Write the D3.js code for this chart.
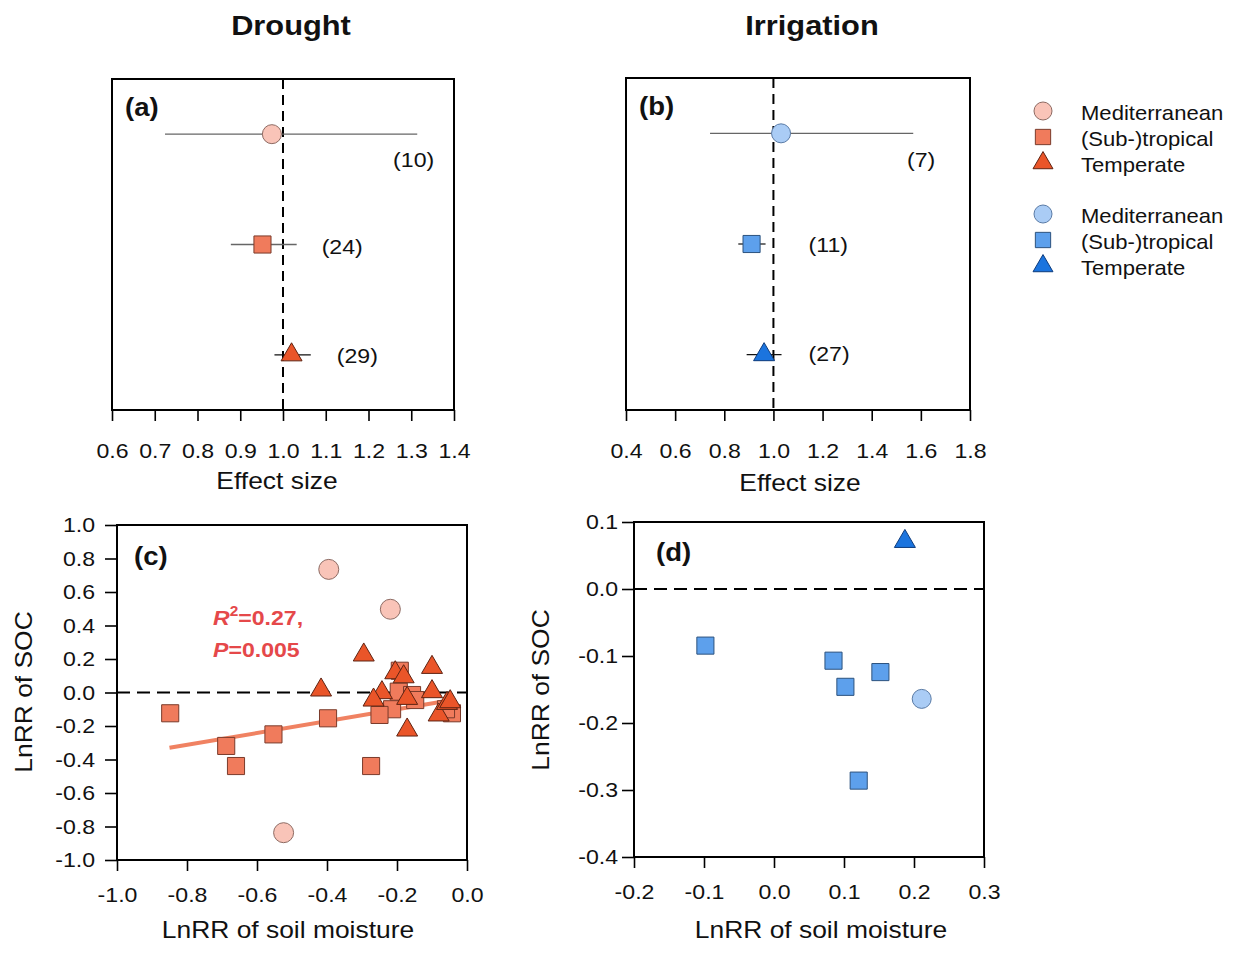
<!DOCTYPE html>
<html>
<head>
<meta charset="utf-8">
<script src="https://cdn.jsdelivr.net/npm/d3@7"></script>
<style>
  html, body { margin: 0; padding: 0; background: #fff; }
  svg { display: block; font-family: "Liberation Sans", Arial, Helvetica, sans-serif; }
</style>
</head>
<body>
<svg id="fig" width="1239" height="956"></svg>
<script>
// ---- Meta-analysis effect sizes (mean and 95% CI) by climate zone ----
const climates = ["Mediterranean", "(Sub-)tropical", "Temperate"];
const shapes = ["circle", "square", "triangle"];

const droughtMean = [0.974, 0.952, 1.020];
const droughtLow  = [0.724, 0.878, 0.980];
const droughtHigh = [1.314, 1.032, 1.065];
const droughtN    = [10, 24, 29];

const irrigMean = [1.031, 0.911, 0.962];
const irrigLow  = [0.742, 0.857, 0.891];
const irrigHigh = [1.569, 0.968, 1.033];
const irrigN    = [7, 11, 27];

const droughtTicks = [0.6, 0.7, 0.8, 0.9, 1.0, 1.1, 1.2, 1.3, 1.4];
const irrigTicks   = [0.4, 0.6, 0.8, 1.0, 1.2, 1.4, 1.6, 1.8];

// ---- LnRR of SOC vs LnRR of soil moisture, drought studies ----
const dMedX = [-0.395, -0.219, -0.524];
const dMedY = [0.735, 0.497, -0.837];
const dSubX = [-0.848, -0.688, -0.660, -0.553, -0.397, -0.274, -0.192, -0.195, -0.157, -0.148, -0.214, -0.250, -0.043, -0.060];
const dSubY = [-0.124, -0.319, -0.439, -0.250, -0.154, -0.439, 0.130, 0.005, -0.015, -0.045, -0.100, -0.134, -0.124, -0.100];
const dTemX = [-0.295, -0.417, -0.100, -0.100, -0.205, -0.181, -0.243, -0.267, -0.171, -0.171, -0.081, -0.057, -0.048];
const dTemY = [0.224, 0.015, 0.150, 0.005, 0.118, 0.094, -0.001, -0.045, -0.035, -0.224, -0.134, -0.065, -0.055];

// fitted linear regression (drought)
const regIntercept = -0.030;
const regSlope = 0.353;
const regXRange = [-0.85, -0.043];
const regR2 = "0.27";
const regP = "0.005";

const cXTicks = [-1.0, -0.8, -0.6, -0.4, -0.2, 0.0];
const cYTicks = [-1.0, -0.8, -0.6, -0.4, -0.2, 0.0, 0.2, 0.4, 0.6, 0.8, 1.0];

// ---- LnRR of SOC vs LnRR of soil moisture, irrigation studies ----
const iMedX = [0.211];
const iMedY = [-0.164];
const iSubX = [-0.098, 0.085, 0.102, 0.152, 0.121];
const iSubY = [-0.0845, -0.107, -0.146, -0.124, -0.286];
const iTemX = [0.187];
const iTemY = [0.071];

const dXTicks = [-0.2, -0.1, 0.0, 0.1, 0.2, 0.3];
const dYTicks = [-0.4, -0.3, -0.2, -0.1, 0.0, 0.1];

// ---- styling ----
const droughtFill   = ["#F9C4B8", "#F07B5C", "#EA5529"];
const droughtStroke = ["#8d6a62", "#7a3b2b", "#5e2312"];
const irrigFill     = ["#AACCF5", "#5DA0EC", "#1B74DE"];
const irrigStroke   = ["#5a7ba6", "#2c527e", "#0d3b7c"];
const regColor = "#F08262";
const statColor = "#E5484A";
const textWiden = 1.1;   // horizontal widening of the lettering

const svg = d3.select("#fig");
const fmt = d => d.toFixed(1);

function shapePath(shape, size) {
  if (shape === "circle") {
    const r = size / 2;
    return `M${r},0A${r},${r} 0 1,1 ${-r},0A${r},${r} 0 1,1 ${r},0Z`;
  }
  if (shape === "square") {
    const s = size * 0.9;
    return `M${-s / 2},${-s / 2}h${s}v${s}h${-s}Z`;
  }
  const w = size * 1.05, h = w * 0.86;
  return `M0,${-2 * h / 3}L${w / 2},${h / 3}L${-w / 2},${h / 3}Z`;
}

function drawMarker(g, shape, x, y, size, fill, stroke) {
  g.append("path")
    .attr("d", shapePath(shape, size))
    .attr("transform", `translate(${x},${y})`)
    .attr("fill", fill)
    .attr("stroke", stroke)
    .attr("stroke-width", 1);
}

function styleAxis(ax, fontSize) {
  ax.select(".domain").remove();
  ax.selectAll(".tick line").attr("stroke", "#000").attr("stroke-width", 1.6);
  ax.selectAll(".tick text").attr("fill", "#111").style("font-size", fontSize + "px");
}

function frame(g, b) {
  g.append("rect")
    .attr("x", b.left).attr("y", b.top)
    .attr("width", b.right - b.left).attr("height", b.bottom - b.top)
    .attr("fill", "none").attr("stroke", "#000").attr("stroke-width", 2);
}

// ---- forest panels ----
function forestPanel(o) {
  const g = svg.append("g");
  const b = o.box;
  const x = d3.scaleLinear().domain(o.domain).range([b.left, b.right]);
  const y = d3.scalePoint().domain(d3.range(climates.length)).range([b.top, b.bottom]).padding(0.5);

  // reference line at effect size 1
  g.append("line")
    .attr("x1", x(1)).attr("x2", x(1))
    .attr("y1", b.top).attr("y2", b.bottom)
    .attr("stroke", "#000").attr("stroke-width", 2)
    .attr("stroke-dasharray", "10,6");

  climates.forEach((c, i) => {
    g.append("line")
      .attr("x1", x(o.low[i])).attr("x2", x(o.high[i]))
      .attr("y1", y(i)).attr("y2", y(i))
      .attr("stroke", o.barColor[i]).attr("stroke-width", 1.3);
    drawMarker(g, shapes[i], x(o.mean[i]), y(i), o.markerSize[i], o.fill[i], o.stroke[i]);
    const lab = o.countLabel[i];
    g.append("text")
      .attr("x", x(o.high[i]) + lab.dx)
      .attr("y", y(i) + lab.dy)
      .attr("text-anchor", lab.anchor)
      .attr("fill", "#111")
      .style("font-size", "21px")
      .text(`(${o.n[i]})`);
  });

  frame(g, b);

  const ax = g.append("g")
    .attr("transform", `translate(0,${b.bottom})`)
    .call(d3.axisBottom(x).tickValues(o.ticks).tickFormat(fmt).tickSize(11).tickPadding(22).tickSizeOuter(0));
  styleAxis(ax, 21);

  g.append("text")
    .attr("x", (b.left + b.right) / 2 + o.xTitleDx)
    .attr("y", o.xTitleY)
    .attr("text-anchor", "middle")
    .attr("fill", "#111")
    .style("font-size", "24px")
    .text("Effect size");

  g.append("text")
    .attr("x", b.left + 13).attr("y", b.top + 37)
    .attr("fill", "#111")
    .style("font-size", "25px").style("font-weight", "bold")
    .text(o.tag);

  g.append("text")
    .attr("x", o.titleX).attr("y", 35)
    .attr("text-anchor", "middle")
    .attr("fill", "#111")
    .style("font-size", "28px").style("font-weight", "bold")
    .text(o.title);
}

forestPanel({
  box: { left: 112, right: 454, top: 79, bottom: 410 },
  domain: [0.6, 1.4], ticks: droughtTicks,
  mean: droughtMean, low: droughtLow, high: droughtHigh, n: droughtN,
  fill: droughtFill, stroke: droughtStroke,
  barColor: ["#666", "#666", "#111"],
  markerSize: [19, 19, 20],
  countLabel: [
    { anchor: "end", dx: 17, dy: 33 },
    { anchor: "start", dx: 25, dy: 9 },
    { anchor: "start", dx: 26, dy: 8 }
  ],
  xTitleDx: -6, xTitleY: 489, tag: "(a)", title: "Drought", titleX: 291
});

forestPanel({
  box: { left: 626, right: 970, top: 78, bottom: 410 },
  domain: [0.4, 1.8], ticks: irrigTicks,
  mean: irrigMean, low: irrigLow, high: irrigHigh, n: irrigN,
  fill: irrigFill, stroke: irrigStroke,
  barColor: ["#666", "#222", "#111"],
  markerSize: [19, 19, 20],
  countLabel: [
    { anchor: "end", dx: 22, dy: 34 },
    { anchor: "start", dx: 43, dy: 8 },
    { anchor: "start", dx: 27, dy: 6 }
  ],
  xTitleDx: 2, xTitleY: 491, tag: "(b)", title: "Irrigation", titleX: 812
});

// ---- scatter panels ----
function scatterPanel(o) {
  const g = svg.append("g");
  const b = o.box;
  const x = d3.scaleLinear().domain(o.xDomain).range([b.left, b.right]);
  const y = d3.scaleLinear().domain(o.yDomain).range([b.bottom, b.top]);

  g.append("line")
    .attr("x1", b.left).attr("x2", b.right)
    .attr("y1", y(0)).attr("y2", y(0))
    .attr("stroke", "#000").attr("stroke-width", 2)
    .attr("stroke-dasharray", "13,7");

  if (o.reg) {
    g.append("line")
      .attr("x1", x(o.reg.range[0])).attr("y1", y(o.reg.a + o.reg.b * o.reg.range[0]))
      .attr("x2", x(o.reg.range[1])).attr("y2", y(o.reg.a + o.reg.b * o.reg.range[1]))
      .attr("stroke", regColor).attr("stroke-width", 4);
  }

  // draw order: squares, triangles, circles
  [1, 2, 0].forEach(i => {
    const xs = o.xs[i], ys = o.ys[i];
    xs.forEach((v, k) => drawMarker(g, shapes[i], x(v), y(ys[k]), o.markerSize[i], o.fill[i], o.stroke[i]));
  });

  frame(g, b);

  const axB = g.append("g")
    .attr("transform", `translate(0,${b.bottom})`)
    .call(d3.axisBottom(x).tickValues(o.xTicks).tickFormat(fmt).tickSize(11).tickPadding(16).tickSizeOuter(0));
  styleAxis(axB, 21);

  const axL = g.append("g")
    .attr("transform", `translate(${b.left},0)`)
    .call(d3.axisLeft(y).tickValues(o.yTicks).tickFormat(fmt).tickSize(12).tickPadding(o.yPad).tickSizeOuter(0));
  styleAxis(axL, 21);

  g.append("text")
    .attr("x", o.xTitleX).attr("y", 938)
    .attr("text-anchor", "middle").attr("fill", "#111")
    .style("font-size", "24px")
    .text("LnRR of soil moisture");

  g.append("text")
    .attr("transform", `translate(${o.yTitleX},${o.yTitleY}) rotate(-90)`)
    .attr("text-anchor", "middle").attr("fill", "#111")
    .style("font-size", "24px")
    .text("LnRR of SOC");

  g.append("text")
    .attr("x", o.tagX).attr("y", o.tagY)
    .attr("fill", "#111")
    .style("font-size", "25px").style("font-weight", "bold")
    .text(o.tag);

  return { g, x, y };
}

const pc = scatterPanel({
  box: { left: 117, right: 467, top: 525, bottom: 860 },
  xDomain: [-1, 0], yDomain: [-1, 1],
  xTicks: cXTicks, yTicks: cYTicks,
  xs: [dMedX, dSubX, dTemX], ys: [dMedY, dSubY, dTemY],
  fill: droughtFill, stroke: droughtStroke,
  markerSize: [20, 19, 20],
  reg: { a: regIntercept, b: regSlope, range: regXRange },
  yPad: 10,
  xTitleX: 288, yTitleX: 32, yTitleY: 692,
  tag: "(c)", tagX: 134, tagY: 565
});

// regression statistics
const stat = pc.g.append("g").attr("fill", statColor)
  .style("font-size", "21px").style("font-weight", "bold");
const t1 = stat.append("text").attr("x", 213).attr("y", 625);
t1.append("tspan").style("font-style", "italic").text("R");
t1.append("tspan").attr("dy", -9).style("font-size", "14px").text("2");
t1.append("tspan").attr("dy", 9).text(`=${regR2},`);
const t2 = stat.append("text").attr("x", 213).attr("y", 657);
t2.append("tspan").style("font-style", "italic").text("P");
t2.append("tspan").text(`=${regP}`);

scatterPanel({
  box: { left: 634, right: 984, top: 522, bottom: 857 },
  xDomain: [-0.2, 0.3], yDomain: [-0.4, 0.1],
  xTicks: dXTicks, yTicks: dYTicks,
  xs: [iMedX, iSubX, iTemX], ys: [iMedY, iSubY, iTemY],
  fill: irrigFill, stroke: irrigStroke,
  markerSize: [19, 19, 20],
  reg: null,
  yPad: 4,
  xTitleX: 821, yTitleX: 549, yTitleY: 690,
  tag: "(d)", tagX: 656, tagY: 561
});

// ---- legend ----
const legend = svg.append("g").attr("class", "legend").attr("fill", "#111").style("font-size", "21px");
const legendGroups = [
  { fill: droughtFill, stroke: droughtStroke, y0: 111, sizes: [18, 17, 19] },
  { fill: irrigFill, stroke: irrigStroke, y0: 214, sizes: [18, 17, 19] }
];
legendGroups.forEach(grp => {
  climates.forEach((c, i) => {
    const yy = grp.y0 + i * 26;
    drawMarker(legend, shapes[i], 1043, yy, grp.sizes[i], grp.fill[i], grp.stroke[i]);
    legend.append("text").attr("x", 1081).attr("y", yy + 8.5).text(c);
  });
});

// widen all lettering slightly (legend a little less)
svg.selectAll("text").each(function () {
  const inLegend = this.closest(".legend") !== null;
  const k = inLegend ? 1.05 : textWiden;
  const len = this.getComputedTextLength();
  if (len > 0) {
    d3.select(this)
      .attr("textLength", (len * k).toFixed(2))
      .attr("lengthAdjust", "spacingAndGlyphs");
  }
});
</script>
</body>
</html>
